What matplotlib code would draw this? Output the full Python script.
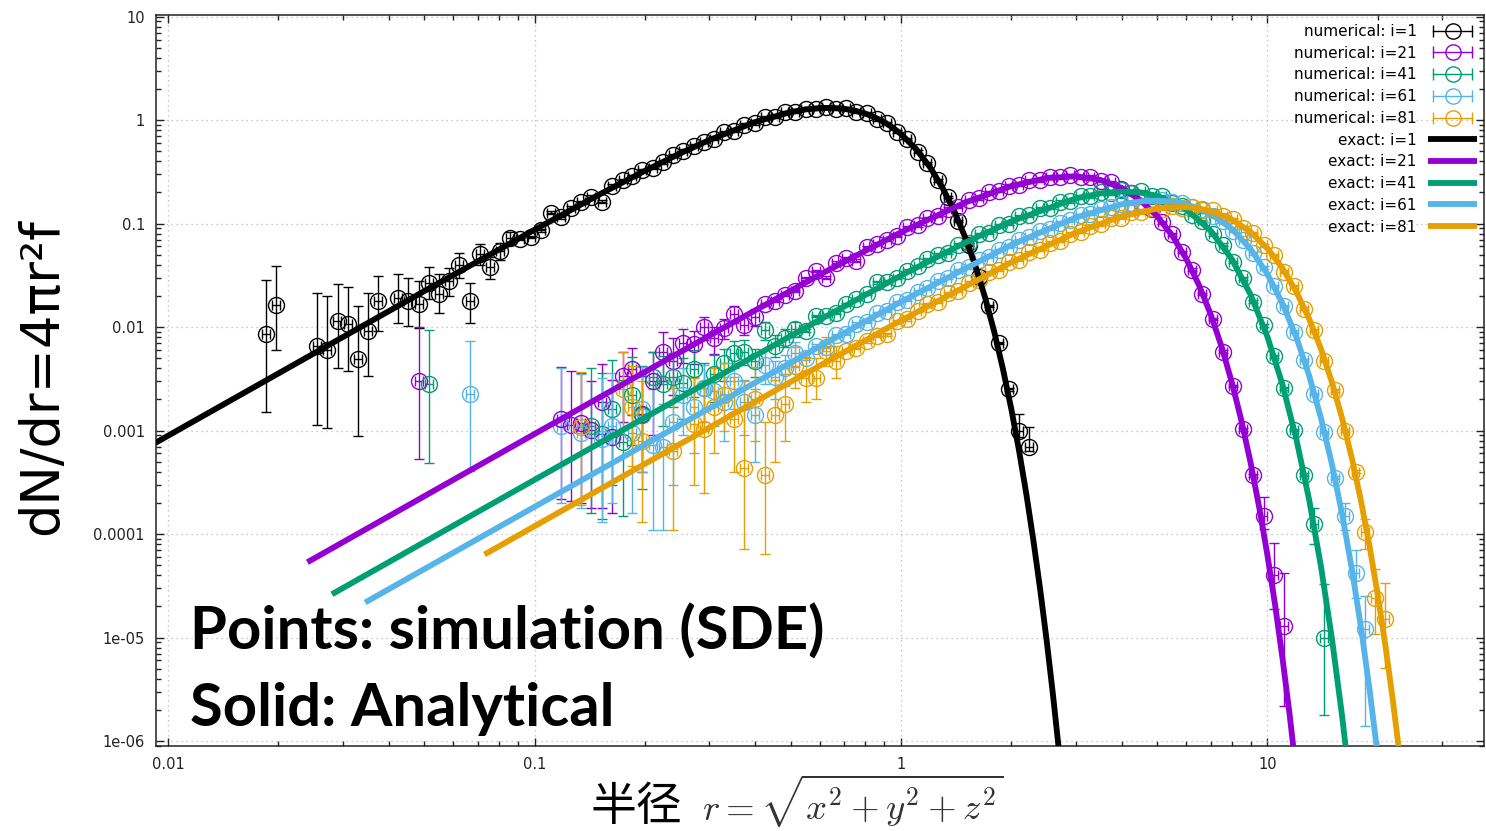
import numpy as np
import matplotlib
matplotlib.use("Agg")
from matplotlib import pyplot as plt
from matplotlib.lines import Line2D
from matplotlib.legend_handler import HandlerLine2D, HandlerTuple
from matplotlib.ticker import NullFormatter

plt.rcParams['font.family'] = ['DejaVu Sans']
plt.rcParams['mathtext.fontset'] = 'cm'

###########################################################################
# data

# radial bins of the simulation histogram
r_bins = [0.0185, 0.0197, 0.0210, 0.0224, 0.0239, 0.0255, 0.0272, 0.0290, 0.0309, 0.0329,
          0.0351, 0.0374, 0.0399, 0.0425, 0.0453, 0.0483, 0.0515, 0.0549, 0.0585, 0.0624,
          0.0665, 0.0709, 0.0756, 0.0806, 0.0859, 0.0915, 0.0976, 0.104, 0.111, 0.118,
          0.126, 0.134, 0.143, 0.153, 0.163, 0.174, 0.185, 0.197, 0.210, 0.224,
          0.239, 0.255, 0.272, 0.290, 0.309, 0.329, 0.351, 0.374, 0.399, 0.425,
          0.453, 0.483, 0.515, 0.549, 0.585, 0.624, 0.665, 0.709, 0.756, 0.806,
          0.859, 0.915, 0.976, 1.04, 1.11, 1.18, 1.26, 1.34, 1.43, 1.53,
          1.63, 1.74, 1.85, 1.97, 2.10, 2.24, 2.39, 2.55, 2.72, 2.90,
          3.09, 3.29, 3.51, 3.74, 3.99, 4.25, 4.53, 4.83, 5.15, 5.49,
          5.85, 6.24, 6.65, 7.09, 7.56, 8.06, 8.59, 9.15, 9.76, 10.4,
          11.1, 11.8, 12.6, 13.4, 14.3, 15.3, 16.3, 17.4, 18.5, 19.7,
          21.0, 22.4]

# numerical i=1 (first bin index, value per bin, None = empty bin)
num1_start = 0
num1_y = [0.0086, 0.0163, None, None, None, 0.0066, 0.0060, 0.0114, 0.0106, 0.0049,
          0.0092, 0.0178, None, 0.0192, 0.0178, 0.0166, 0.0268, 0.021, 0.028, 0.040,
          0.0178, 0.051, 0.038, 0.054, 0.072, 0.071, 0.074, 0.086, 0.127, 0.115,
          0.142, 0.160, 0.182, 0.163, 0.232, 0.262, 0.285, 0.326, 0.345, 0.392,
          0.455, 0.505, 0.566, 0.612, 0.660, 0.760, 0.790, 0.900, 0.930, 1.06,
          1.07, 1.19, 1.20, 1.29, 1.28, 1.34, 1.29, 1.30, 1.20, 1.16,
          1.02, 0.935, 0.770, 0.655, 0.495, 0.385, 0.262, 0.180, 0.106, 0.0625,
          0.0305, 0.0160, 0.0070, 0.0025, 0.00100, 0.00069]
num1_bar_k = [0, 1, 5, 6, 7, 8, 9, 10, 11, 13, 14, 15, 16, 17, 18, 19, 20, 21, 22, 23, 24, 74, 75]
num1_bar_lo = [0.0015, 0.0060, 0.00114, 0.00105, 0.0040, 0.00375, 0.00088, 0.0034, 0.0092, 0.011,
               0.0102, 0.0098, 0.0185, 0.0138, 0.020, 0.030, 0.011, 0.040, 0.029, 0.044,
               0.062, 0.00086, 0.00064]
num1_bar_hi = [0.0285, 0.039, 0.0212, 0.020, 0.0262, 0.0244, 0.016, 0.0215, 0.031, 0.0324,
               0.030, 0.028, 0.038, 0.0324, 0.037, 0.052, 0.0268, 0.063, 0.048, 0.065,
               0.083, 0.00146, 0.00108]

# numerical i=21
num21_start = 15
num21_y = [0.0030, None, None, None, None, None, None, None, None, None,
           None, None, None, None, 0.0013, 0.00112, 0.00118, 0.00101, 0.00188, 0.00086,
           0.0034, 0.0039, 0.00145, 0.0030, 0.0058, 0.0047, 0.0070, 0.0068, 0.0100, 0.0078,
           0.0098, 0.0134, 0.0105, 0.0125, 0.0166, 0.0180, 0.0205, 0.0223, 0.0296, 0.0347,
           0.0300, 0.0420, 0.0464, 0.0437, 0.0590, 0.0640, 0.0700, 0.0760, 0.0920, 0.0960,
           0.112, 0.118, 0.139, 0.145, 0.169, 0.175, 0.200, 0.206, 0.232, 0.236,
           0.261, 0.262, 0.283, 0.279, 0.292, 0.280, 0.283, 0.258, 0.250, 0.217,
           0.199, 0.162, 0.137, 0.103, 0.0785, 0.0530, 0.0358, 0.0208, 0.0120, 0.0058,
           0.0027, 0.00103, 3.7e-4, 1.5e-4, 4.0e-5, 1.3e-5]
num21_bar_k = [15, 29, 30, 31, 32, 33, 34, 35, 36, 37, 38, 39, 40, 41, 42, 43, 44, 45, 46, 47,
               48, 98, 99, 100]
num21_bar_lo = [0.00053, 0.00022, 0.00021, 0.00020, 0.00018, 0.00018, 0.00016, 0.0012, 0.0014, 0.0004,
                0.0009, 0.0030, 0.0022, 0.0045, 0.0044, 0.0075, 0.0055, 0.0076, 0.0110, 0.0083,
                0.0102, 1.13e-4, 1.9e-5, 2.2e-6]
num21_bar_hi = [0.0099, 0.0041, 0.0038, 0.0036, 0.0030, 0.0044, 0.0031, 0.0058, 0.0063, 0.0034,
                0.0058, 0.0090, 0.0078, 0.0095, 0.0092, 0.0125, 0.0101, 0.0120, 0.0158, 0.0127,
                0.0148, 2.3e-4, 8.1e-5, 4.2e-5]

# numerical i=41
num41_start = 16
num41_y = [0.0028, None, None, None, None, None, None, None, None, None,
           None, None, None, None, None, None, 0.0011, 0.00093, 0.0016, 0.00078,
           0.0022, 0.0014, 0.0033, 0.0028, 0.0033, 0.0029, 0.0039, 0.0026, 0.0035, 0.0045,
           0.0056, 0.0058, 0.0047, 0.0093, 0.0066, 0.0079, 0.0095, 0.0092, 0.0128, 0.0128,
           0.0138, 0.0166, 0.0185, 0.0210, 0.0270, 0.0275, 0.0300, 0.0350, 0.0390, 0.0450,
           0.0500, 0.0520, 0.0625, 0.0655, 0.0785, 0.0815, 0.0965, 0.0995, 0.117, 0.120,
           0.140, 0.142, 0.163, 0.164, 0.185, 0.183, 0.201, 0.196, 0.209, 0.198,
           0.204, 0.186, 0.184, 0.159, 0.149, 0.121, 0.105, 0.079, 0.0625, 0.0425,
           0.0296, 0.0176, 0.0104, 0.0052, 0.00255, 0.00101, 3.75e-4, 1.25e-4, 1.0e-5]
num41_bar_k = [16, 32, 33, 34, 35, 36, 37, 38, 39, 40, 41, 42, 43, 44, 45, 46, 47, 48, 49, 50,
               51, 52, 103, 104]
num41_bar_lo = [0.00049, 0.00016, 0.00014, 0.0003, 0.00015, 0.00072, 0.00027, 0.0015, 0.0011, 0.0017,
                0.0013, 0.0021, 0.0010, 0.0019, 0.0030, 0.0040, 0.0043, 0.0033, 0.0075, 0.0051,
                0.0064, 0.0080, 8.0e-5, 1.8e-6]
num41_bar_hi = [0.0093, 0.0040, 0.0036, 0.0048, 0.0031, 0.0051, 0.0042, 0.0058, 0.0052, 0.0056,
                0.0050, 0.0060, 0.0045, 0.0054, 0.0062, 0.0074, 0.0075, 0.0062, 0.0113, 0.0083,
                0.0095, 0.0111, 1.8e-4, 3.3e-5]

# numerical i=61
num61_start = 20
num61_y = [0.00223, None, None, None, None, None, None, None, None, 0.0011,
           None, 0.00095, None, 0.00082, 0.0011, None, 0.00095, 0.0016, 0.00072, 0.00069,
           0.0012, 0.0022, 0.0017, 0.0026, 0.0024, 0.0019, 0.0030, 0.0019, 0.0014, 0.0043,
           0.0033, 0.0040, 0.0056, 0.0050, 0.0066, 0.0064, 0.0084, 0.0086, 0.0108, 0.0112,
           0.0136, 0.0143, 0.0173, 0.0184, 0.0220, 0.0236, 0.0280, 0.0298, 0.0355, 0.0377,
           0.0445, 0.0475, 0.0556, 0.0595, 0.0690, 0.0735, 0.0845, 0.0895, 0.102, 0.107,
           0.121, 0.125, 0.139, 0.143, 0.155, 0.157, 0.166, 0.164, 0.168, 0.161,
           0.159, 0.146, 0.137, 0.119, 0.105, 0.0855, 0.0695, 0.0515, 0.0378, 0.0249,
           0.0160, 0.0090, 0.0048, 0.00225, 9.7e-4, 3.5e-4, 1.5e-4, 4.2e-5, 1.2e-5]
num61_bar_k = [20, 29, 31, 33, 34, 36, 37, 38, 39, 40, 41, 42, 43, 44, 45, 46, 47, 48, 49, 50,
               51, 52, 106, 107, 108]
num61_bar_lo = [0.00041, 0.00020, 0.00018, 0.00013, 0.00020, 0.00016, 0.00040, 0.00011, 0.00011, 0.00030,
                0.0009, 0.0006, 0.0012, 0.0011, 0.0008, 0.0016, 0.0009, 0.0005, 0.0028, 0.0020,
                0.0027, 0.0041, 1.1e-4, 2.4e-5, 1.4e-6]
num61_bar_hi = [0.0073, 0.0040, 0.0035, 0.0032, 0.0036, 0.0033, 0.0041, 0.0025, 0.0018, 0.0030,
                0.0040, 0.0033, 0.0043, 0.0040, 0.0033, 0.0045, 0.0031, 0.0025, 0.0060, 0.0047,
                0.0054, 0.0072, 2.0e-4, 7.0e-5, 2.5e-5]

# numerical i=81
num81_start = 31
num81_y = [0.00109, None, None, None, 0.0025, 0.00168, 0.00079, None, None, 0.00064,
           None, 0.00116, 0.00104, 0.0017, 0.0022, 0.0013, 0.00043, 0.0020, 0.00037, 0.0014,
           0.0018, 0.0042, 0.0032, 0.0032, 0.0059, 0.0047, 0.0059, 0.0063, 0.0073, 0.0082,
           0.0085, 0.0114, 0.0119, 0.0143, 0.0166, 0.0176, 0.0212, 0.0223, 0.0268, 0.0283,
           0.0338, 0.0356, 0.0425, 0.0447, 0.0530, 0.0556, 0.0655, 0.0683, 0.0797, 0.0826,
           0.0955, 0.0983, 0.112, 0.114, 0.128, 0.128, 0.141, 0.138, 0.148, 0.141,
           0.146, 0.134, 0.134, 0.117, 0.111, 0.0915, 0.0808, 0.0616, 0.0498, 0.0343,
           0.0247, 0.0150, 0.0093, 0.0047, 0.00245, 0.00100, 4.0e-4, 1.05e-4, 2.4e-5, 1.5e-5]
num81_bar_k = [31, 35, 36, 37, 40, 42, 43, 44, 45, 46, 47, 48, 49, 50, 51, 52, 53, 54, 55, 56,
               108, 109, 110]
num81_bar_lo = [0.00019, 0.0009, 0.00045, 0.00013, 0.00011, 0.00030, 0.00025, 0.0006, 0.0010, 0.0004,
                7.1e-5, 0.0008, 6.4e-5, 0.0005, 0.0008, 0.0026, 0.0019, 0.0020, 0.0042, 0.0032,
                7.1e-5, 1.07e-5, 5.1e-6]
num81_bar_hi = [0.0037, 0.0058, 0.0042, 0.0030, 0.0026, 0.0032, 0.0030, 0.0040, 0.0045, 0.0033,
                0.0030, 0.0041, 0.0012, 0.0031, 0.0035, 0.0064, 0.0050, 0.0050, 0.0081, 0.0066,
                1.39e-4, 4.55e-5, 3.4e-5]

# exact (analytical) curves
exact1_r = [0.009, 0.02, 0.05, 0.1, 0.15, 0.2, 0.25, 0.3, 0.4, 0.5, 0.55, 0.6, 0.65, 0.7, 0.75,
            0.8, 0.85, 0.9, 0.95, 1.0, 1.1, 1.2, 1.3, 1.4, 1.5, 1.6, 1.7, 1.8, 1.9, 2.0,
            2.1, 2.2, 2.3, 2.4, 2.5, 2.6, 2.7, 2.8]
exact1_y = [7.22e-4, 3.56e-3, 0.0222, 0.0870, 0.190, 0.323, 0.477, 0.641, 0.957, 1.194, 1.267, 1.306,
            1.311, 1.284, 1.230, 1.153, 1.059, 0.954, 0.844, 0.732, 0.524, 0.351, 0.220, 0.130,
            0.0723, 0.0380, 0.0188, 8.77e-3, 3.87e-3, 1.62e-3, 6.41e-4, 2.40e-4, 8.51e-5,
            2.86e-5, 9.15e-6, 2.77e-6, 7.94e-7, 2.16e-7]

exact21_r = [0.024, 0.1, 0.3, 0.6, 1.0, 1.5, 2.0, 2.5, 3.0, 3.5, 4.0, 4.5, 5.0, 5.5, 6.0, 6.5,
             7.0, 7.5, 8.0, 8.5, 9.0, 9.5, 10, 10.5, 11, 11.5, 12]
exact21_y = [5.34e-5, 9.26e-4, 8.25e-3, 0.0320, 0.0823, 0.160, 0.230, 0.275, 0.286, 0.264, 0.221,
             0.1685, 0.118, 0.0765, 0.0459, 0.0256, 0.0133, 6.45e-3, 2.91e-3, 1.23e-3, 4.87e-4,
             1.80e-4, 6.26e-5, 2.04e-5, 6.22e-6, 1.79e-6, 4.79e-7]

exact41_r = [0.028, 0.1, 0.3, 0.6, 1, 1.5, 2, 3, 3.5, 4, 4.5, 5, 6, 7, 8, 9, 10, 11, 12, 13,
             14, 15, 16, 17]
exact41_y = [2.62e-5, 3.34e-4, 2.99e-3, 0.01175, 0.0314, 0.0656, 0.105, 0.1746, 0.1954, 0.2036,
             0.1996, 0.185, 0.1373, 0.0854, 0.0452, 0.0205, 8.08e-3, 2.76e-3, 8.21e-4, 2.14e-4,
             4.87e-5, 9.75e-6, 1.71e-6, 2.65e-7]

exact61_r = [0.0345, 0.1, 0.3, 0.6, 1, 2, 3, 4, 4.5, 5, 5.5, 6, 7, 8, 9, 10, 11, 12, 13, 14,
             15, 16, 17, 18, 19, 20, 21]
exact61_y = [2.18e-5, 1.83e-4, 1.64e-3, 6.48e-3, 0.01755, 0.0622, 0.1144, 0.1534, 0.1636, 0.1667,
             0.1632, 0.1541, 0.1242, 0.0886, 0.0565, 0.0324, 0.0168, 7.92e-3, 3.39e-3, 1.32e-3,
             4.72e-4, 1.54e-4, 4.59e-5, 1.26e-5, 3.15e-6, 7.23e-7, 1.53e-7]

exact81_r = [0.073, 0.2, 0.5, 1, 2, 3, 4, 5, 5.5, 6, 6.5, 7, 8, 9, 10, 11, 12, 13, 14, 15,
             16, 17, 18, 19, 20, 21, 22, 23, 24]
exact81_y = [6.34e-5, 4.76e-4, 2.95e-3, 0.01155, 0.0422, 0.0816, 0.1173, 0.1395, 0.1440, 0.1440,
             0.1398, 0.1321, 0.1096, 0.0828, 0.0575, 0.0368, 0.0218, 0.0120, 6.15e-3, 2.93e-3,
             1.30e-3, 5.41e-4, 2.10e-4, 7.63e-5, 2.59e-5, 8.24e-6, 2.46e-6, 6.87e-7, 1.80e-7]

x_ticks = [0.01, 0.1, 1, 10]
x_ticklabels = ['0.01', '0.1', '1', '10']
y_ticks = [1e-6, 1e-5, 1e-4, 1e-3, 1e-2, 1e-1, 1, 10]
y_ticklabels = ['1e-06', '1e-05', '0.0001', '0.001', '0.01', '0.1', '1', '10']

labels_i = ['1', '21', '41', '61', '81']
colors = ['#000000', '#9400d3', '#009e73', '#56b4e9', '#e69f00']

###########################################################################

def draw_points(ax, start, yvals, bar_k, bar_lo, bar_hi, color):
    ks = [start + i for i, v in enumerate(yvals) if v is not None]
    r = np.array([r_bins[k] for k in ks])
    y = np.array([v for v in yvals if v is not None], dtype=float)
    lo = y * 0.97
    hi = y * 1.03
    for k, a, b in zip(bar_k, bar_lo, bar_hi):
        j = ks.index(k)
        lo[j] = a
        hi[j] = b
    ax.errorbar(r, y, xerr=r * 0.025, yerr=[y - lo, hi - y], fmt='o', ms=11.5,
                mfc='none', mec=color, mew=1.0, ecolor=color, elinewidth=1.0,
                capsize=3.5, capthick=1.0, zorder=2)


W, H = 1486, 831
fig = plt.figure(figsize=(W / 100, H / 100), dpi=100)
ax = fig.add_axes([156 / W, 1 - 746 / H, (1484 - 156) / W, (746 - 15) / H])
ax.set_xscale('log')
ax.set_yscale('log')

points = [
    (num1_start, num1_y, num1_bar_k, num1_bar_lo, num1_bar_hi),
    (num21_start, num21_y, num21_bar_k, num21_bar_lo, num21_bar_hi),
    (num41_start, num41_y, num41_bar_k, num41_bar_lo, num41_bar_hi),
    (num61_start, num61_y, num61_bar_k, num61_bar_lo, num61_bar_hi),
    (num81_start, num81_y, num81_bar_k, num81_bar_lo, num81_bar_hi),
]
exacts = [(exact1_r, exact1_y), (exact21_r, exact21_y), (exact41_r, exact41_y),
          (exact61_r, exact61_y), (exact81_r, exact81_y)]

for (start, yv, bk, blo, bhi), c in zip(points, colors):
    draw_points(ax, start, yv, bk, blo, bhi, c)
for (er, ey), c in zip(exacts, colors):
    ax.plot(er, ey, color=c, lw=4.2, solid_capstyle='butt', zorder=3)

ax.set_xlim(0.00927, 39)
ax.set_ylim(8.95e-7, 10.35)
ax.set_xticks(x_ticks, x_ticklabels)
ax.set_yticks(y_ticks, y_ticklabels)
ax.xaxis.set_minor_formatter(NullFormatter())
ax.yaxis.set_minor_formatter(NullFormatter())
ax.tick_params(which='both', direction='in', top=True, right=True, colors='#222222')
ax.tick_params(which='major', length=6, width=1, labelsize=10.5, pad=8)
ax.tick_params(which='minor', length=3.5, width=1)
for s in ax.spines.values():
    s.set_color('#222222')
    s.set_linewidth(1.1)
ax.grid(True, which='major', linestyle=(0, (1, 3)), color='#b8b8b8', linewidth=0.9)

# legend in gnuplot style
handles, labels, hmap = [], [], {}
for li, c in zip(labels_i, colors):
    bar = Line2D([], [], color=c, lw=1, marker='|', ms=9, mew=1)
    circ = Line2D([], [], color=c, ls='none', marker='o', ms=11, mfc='none', mew=1)
    hmap[bar] = HandlerLine2D(numpoints=2)
    hmap[circ] = HandlerLine2D(numpoints=1)
    handles.append((bar, circ))
    labels.append('numerical: i=' + li)
for li, c in zip(labels_i, colors):
    handles.append(Line2D([], [], color=c, lw=4.2, solid_capstyle='butt'))
    labels.append('exact: i=' + li)
hmap[tuple] = HandlerTuple(ndivide=1)
ax.legend(handles, labels, handler_map=hmap, loc='upper right',
          bbox_to_anchor=((1477 - 156) / (1484 - 156), 1 - (24 - 15) / (746 - 15)),
          frameon=False, markerfirst=False, fontsize=11, handlelength=3.2,
          handletextpad=0.75, labelspacing=0.44, borderpad=0, borderaxespad=0)

# annotations
fig.text(190 / W, 1 - 650 / H, 'Points: simulation (SDE)', fontsize=43,
         fontweight='bold', family=['Lato', 'DejaVu Sans'], va='baseline')
fig.text(190 / W, 1 - 726 / H, 'Solid: Analytical', fontsize=43,
         fontweight='bold', family=['Lato', 'DejaVu Sans'], va='baseline')

# axis labels
fig.text(42 / W, 1 - 377 / H, 'dN/dr=4πr²f', fontsize=38, rotation=90,
         ha='center', va='center', family=['DejaVu Sans'])
fig.text(682 / W, 1 - 807 / H, '半径', fontsize=33, ha='right', va='center',
         family=['Noto Sans CJK SC', 'DejaVu Sans'])
fig.text(702 / W, 1 - 821 / H, r'$r=\sqrt{x^2+y^2+z^2}$', fontsize=26.5,
         ha='left', va='baseline', color='#333333')

plt.savefig('out.png', dpi=100)
